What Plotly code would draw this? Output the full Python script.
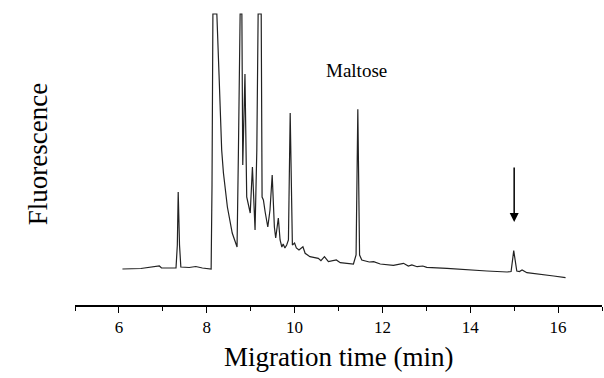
import plotly.graph_objects as go

# Migration time (min) and fluorescence signal (arbitrary units, 291 = off-scale)
time_min = [6.08, 6.50, 6.92, 6.97, 7.30, 7.33, 7.35, 7.38, 7.41, 7.60, 7.75, 7.90,
            8.10, 8.12, 8.14, 8.23, 8.28, 8.34, 8.38, 8.47, 8.58, 8.64, 8.69, 8.72,
            8.76, 8.80, 8.82, 8.87, 8.91, 8.99, 9.04, 9.10, 9.14, 9.17, 9.24, 9.26,
            9.29, 9.33, 9.39, 9.44, 9.49, 9.54, 9.57, 9.63, 9.67, 9.71, 9.74, 9.78,
            9.82, 9.86, 9.90, 9.95, 10.00, 10.04, 10.10, 10.19, 10.24, 10.35,
            10.43, 10.54, 10.60, 10.68, 10.77, 10.95, 11.04, 11.34, 11.40, 11.44,
            11.48, 11.53, 11.70, 11.80, 11.95, 12.25, 12.48, 12.59, 12.67, 12.79,
            12.92, 13.01, 13.47, 13.93, 14.38, 14.84, 14.93, 14.99, 15.06, 15.12,
            15.18, 15.29, 15.60, 15.90, 16.17]
signal = [36, 36.5, 39, 37, 37, 60, 113, 60, 38, 37.5, 38.5, 37,
          36, 120, 291, 291, 230, 155, 132, 98, 72, 64, 58, 150,
          291, 291, 140, 231, 108, 92, 138, 75, 155, 291, 291, 108,
          105, 93, 78, 95, 130, 78, 67, 87, 65, 58, 61, 57,
          60, 65, 192, 60, 62, 57, 55, 58.3, 51.7, 48.3,
          47.7, 46.7, 44.3, 48.3, 43.3, 45, 42.3, 41, 50, 195.7,
          50, 45, 43, 43.3, 41, 39.7, 41.7, 39, 40, 38.3,
          39, 37.7, 36.7, 35, 34, 33, 33.5, 54.3, 34, 33.5,
          35, 32.3, 31, 29, 27.3]

x_ticks = [6, 8, 10, 12, 14, 16]
label_text = "Maltose"
label_pos = (11.41, 235)
arrow_x = 15.0
arrow_from, arrow_to = 139, 83

FONT = "Liberation Serif"

fig = go.Figure()
fig.add_trace(go.Scatter(x=time_min, y=signal, mode="lines",
                         line=dict(color="#222222", width=1.2),
                         hoverinfo="skip", showlegend=False))

fig.add_annotation(x=label_pos[0], y=label_pos[1], text=label_text, showarrow=False,
                   font=dict(family=FONT, size=19, color="black"))
fig.add_annotation(x=arrow_x, y=arrow_to, ax=arrow_x, ay=arrow_from,
                   xref="x", yref="y", axref="x", ayref="y", text="",
                   showarrow=True, arrowhead=2, arrowsize=1.2, arrowwidth=1.5,
                   arrowcolor="black")
fig.add_annotation(x=-0.102, y=0.495, xref="paper", yref="paper",
                   text="Fluorescence", textangle=-90, showarrow=False,
                   font=dict(family=FONT, size=27, color="black"))
fig.add_annotation(x=0.5, y=-0.17, xref="paper", yref="paper", yanchor="middle",
                   text="Migration time (min)", showarrow=False,
                   font=dict(family=FONT, size=27, color="black"))

fig.update_layout(
    width=604, height=378,
    margin=dict(l=75, r=2, t=0, b=73),
    paper_bgcolor="white", plot_bgcolor="white",
    font=dict(family=FONT, color="black"),
    xaxis=dict(range=[5, 17], tickvals=x_ticks, ticks="outside", ticklen=6,
               tickwidth=1.2, tickcolor="black", showline=True, linecolor="black",
               linewidth=1.6, showgrid=False, zeroline=False,
               tickfont=dict(family=FONT, size=17, color="black"),
               minor=dict(tick0=5, dtick=1, ticks="outside", ticklen=4,
                          tickwidth=1, tickcolor="black", showgrid=False)),
    yaxis=dict(range=[0, 305], visible=False, showgrid=False, zeroline=False),
)

fig.write_html("out.html", config={"displayModeBar": False},
               post_script="document.body.style.margin='0';")
